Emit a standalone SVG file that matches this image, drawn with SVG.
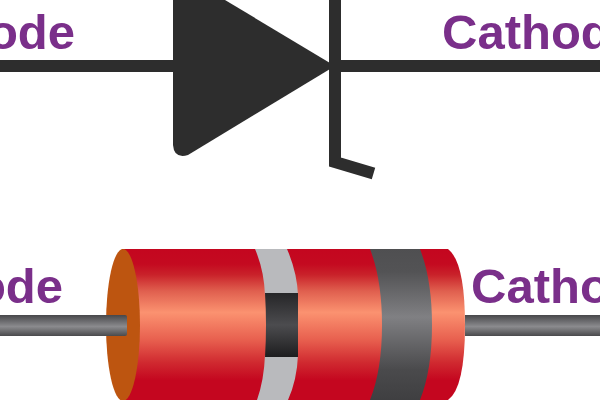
<svg xmlns="http://www.w3.org/2000/svg" width="600" height="400" viewBox="0 0 600 400">
<style>
.lbl{font-family:"Liberation Sans",Arial,sans-serif;font-weight:700;fill:#7a2f8a;font-size:49px}
.sym{fill:#2d2d2d}
.wire{stroke:#2d2d2d;stroke-width:12;fill:none}
</style>
<defs>
<linearGradient id="red" x1="0" y1="0" x2="0" y2="1">
<stop offset="0" stop-color="#c4061f"/><stop offset="0.1" stop-color="#c40a20"/><stop offset="0.17" stop-color="#c9222a"/><stop offset="0.28" stop-color="#e0604f"/><stop offset="0.42" stop-color="#fb9270"/><stop offset="0.6" stop-color="#e8604f"/><stop offset="0.75" stop-color="#d02a30"/><stop offset="0.87" stop-color="#c4061f"/><stop offset="1" stop-color="#c4061f"/>
</linearGradient>
<linearGradient id="grey" x1="0" y1="0" x2="0" y2="1">
<stop offset="0" stop-color="#4f4f51"/><stop offset="0.15" stop-color="#535355"/><stop offset="0.45" stop-color="#808083"/><stop offset="0.8" stop-color="#4a4a4c"/><stop offset="1" stop-color="#3f3f41"/>
</linearGradient>
<linearGradient id="black" x1="0" y1="0" x2="0" y2="1">
<stop offset="0" stop-color="#262628"/><stop offset="0.5" stop-color="#4c4c4f"/><stop offset="1" stop-color="#1d1d1f"/>
</linearGradient>
<linearGradient id="lead" x1="0" y1="0" x2="0" y2="1">
<stop offset="0" stop-color="#47474a"/><stop offset="0.55" stop-color="#8b8b8e"/><stop offset="1" stop-color="#4a4a4c"/>
</linearGradient>
</defs>
<g id="connectors">
<path class="wire" d="M0 66H180"/>
<path class="wire" d="M335 66H600"/>
<rect x="465" y="315" width="135" height="21" fill="url(#lead)"/>
</g>
<g id="symbol">
<path class="sym" d="M173 0V145Q174 159 188 155L335 66L225 0Z"/>
<path class="wire" d="M335 0V162L373.500 173.500"/>
</g>
<g id="body">
<path d="M122 249H448Q465 262 465 325Q465 388 448 400H122Z" fill="url(#red)"/>
<path d="M255 249H287Q297 272 298 295H265Q264 270 255 249Z" fill="#b9babd"/>
<path d="M265 355H298Q297 380 288 400H257Q264 380 265 355Z" fill="#b9babd"/>
<path d="M265 293H298V357H265Q267 325 265 293Z" fill="url(#black)"/>
<path d="M370 249H420Q432 280 432 325Q432 370 420 400H370Q382 370 382 325Q382 280 370 249Z" fill="url(#grey)"/>
<ellipse cx="123" cy="325" rx="17" ry="76" fill="#bd5510"/>
<rect x="-5" y="315" width="132" height="21" rx="2" fill="url(#lead)"/>
</g>
<g id="labels">
<text class="lbl" x="75" y="48.500" text-anchor="end">ode</text>
<text class="lbl" x="442" y="48.500">Cathod</text>
<text class="lbl" x="63" y="302.500" text-anchor="end">ode</text>
<text class="lbl" x="471" y="302.500">Catho</text>
</g>
</svg>
